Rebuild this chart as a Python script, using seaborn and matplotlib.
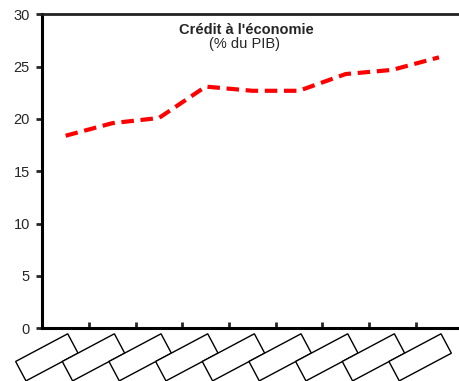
import pandas as pd
import numpy as np
import seaborn as sns
import matplotlib.pyplot as plt

# data
periods = list(range(9))
credit = [18.4, 19.6, 20.1, 23.1, 22.7, 22.7, 24.3, 24.7, 25.9]
tick_labels = [" " * 14] * 9
y_ticks = [0, 5, 10, 15, 20, 25, 30]

df = pd.DataFrame({"period": periods, "credit": credit})

sns.set_style("white")
plt.rcParams['font.family'] = ['Liberation Sans', 'DejaVu Sans']

fig = plt.figure(figsize=(4.6, 3.81), dpi=100)
ax = fig.add_axes([0.092, 0.139, 0.913, 0.823])

sns.lineplot(data=df, x="period", y="credit", ax=ax, color="#ff0000",
             linewidth=3, dashes=False)
ax.lines[0].set_dashes((3, 1.6))
ax.lines[0].set_dash_capstyle("butt")

ax.set_xlim(-0.5, 8.5)
ax.set_ylim(0, 30)
ax.set_yticks(y_ticks)
ax.tick_params(axis="y", direction="out", length=4, width=2, labelsize=10.5, pad=5, left=True)
ax.set_xlabel("")
ax.set_ylabel("")

# tick marks between categories, labels centered on categories
ax.set_xticks(periods)
ax.set_xticklabels(tick_labels, rotation=28, ha="right", rotation_mode="anchor",
                   fontsize=9,
                   bbox=dict(boxstyle="square,pad=0.4", fc="white", ec="black", lw=1))
ax.tick_params(axis="x", which="major", length=0, pad=9)
ax.set_xticks([i + 0.5 for i in periods[:-1]], minor=True)
ax.tick_params(axis="x", which="minor", direction="in", length=4, width=2, bottom=True)

for s in ["left", "bottom"]:
    ax.spines[s].set_linewidth(2.2)
    ax.spines[s].set_color("black")
ax.spines["top"].set_linewidth(2)
ax.spines["top"].set_color("#222222")
ax.spines["right"].set_visible(False)

ax.text(0.485, 0.95, "Crédit à l'économie", transform=ax.transAxes, ha="center",
        va="center", fontsize=10.5, fontweight="bold")
ax.text(0.482, 0.905, "(% du PIB)", transform=ax.transAxes, ha="center",
        va="center", fontsize=10.5)

plt.savefig("out.png", dpi=100)
